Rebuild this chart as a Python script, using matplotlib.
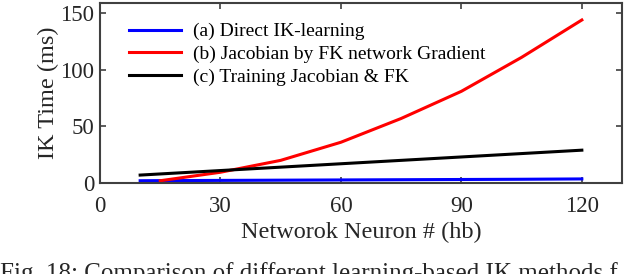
import numpy as np
import matplotlib
matplotlib.use("Agg")
from matplotlib import pyplot as plt

plt.rcParams['font.family'] = ['Liberation Serif', 'DejaVu Serif']

# data
x_ab = [10, 15, 30, 45, 60, 75, 90, 105, 120]
direct_ik = [2.0, 2.1, 2.3, 2.5, 2.7, 2.9, 3.1, 3.3, 3.6]
x_b = [15, 30, 45, 60, 75, 90, 105, 120]
fk_grad = [2.0, 9.5, 20, 36, 57, 81, 111, 144]
train_jac = [7, 8, 11, 14, 17, 20, 23, 26, 29]

labels = ["(a) Direct IK-learning",
          "(b) Jacobian by FK network Gradient",
          "(c) Training Jacobian & FK"]
xticks = [0, 30, 60, 90, 120]
yticks = [0, 50, 100, 150]

fig = plt.figure(figsize=(6.28, 2.74), dpi=100)
ax = fig.add_axes([100/628, 1-183/274, 522/628, 180/274])

ax.plot(x_ab, direct_ik, color='#0000ff', lw=2.2, label=labels[0])
ax.plot(x_b, fk_grad, color='#ff0000', lw=2.2, label=labels[1])
ax.plot(x_ab, train_jac, color='black', lw=2.2, label=labels[2])

ax.set_xlim(0, 130)
ax.set_ylim(0, 159)
ax.set_xticks(xticks)
ax.set_yticks(yticks)
ax.tick_params(direction='in', top=True, right=True, labelsize=16.5,
               length=4, width=1.2, color='#404040', labelcolor='#262626')
ax.tick_params(axis='x', pad=9)
ax.tick_params(axis='y', pad=4)
for s in ax.spines.values():
    s.set_linewidth(1.5)
    s.set_color('#404040')

ax.set_xlabel("Networok Neuron # (hb)", fontsize=17.5, color='#262626', labelpad=4)
ax.set_ylabel("IK Time (ms)", fontsize=17.5, color='#262626', labelpad=1)

leg = ax.legend(loc='upper left', frameon=False, fontsize=14,
                bbox_to_anchor=(0.055, 0.89), borderaxespad=0, borderpad=0,
                handlelength=2.7, handletextpad=0.6, labelspacing=0.25)

fig.text(0.0, 1-262/274, "Fig. 18: Comparison of different learning-based IK methods f",
         fontsize=18, color='#262626', va='top', ha='left')

fig.savefig("out.png", dpi=100)
